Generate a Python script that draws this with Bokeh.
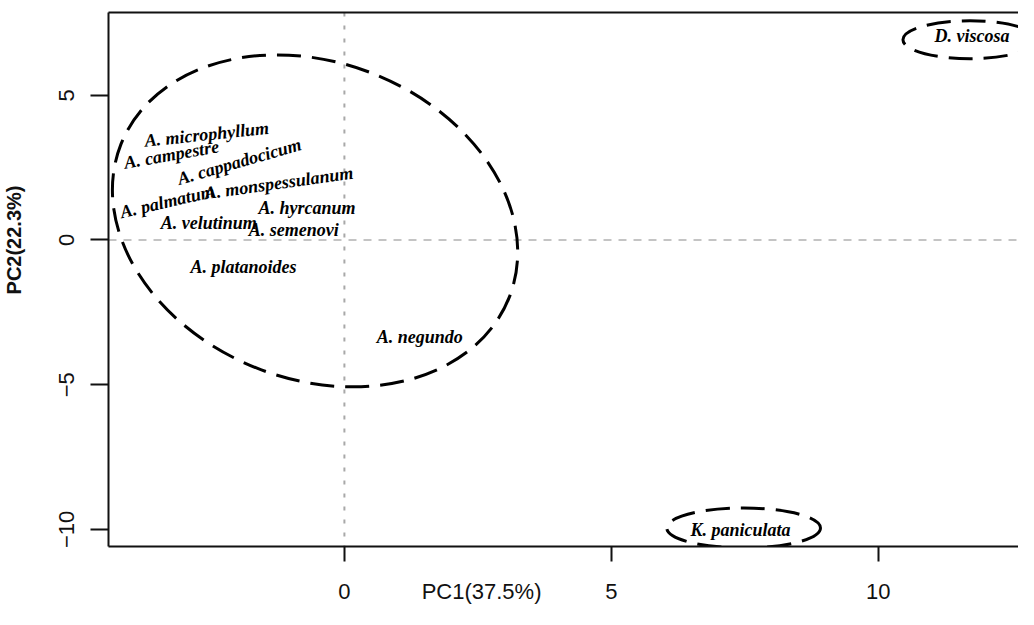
import math
from bokeh.plotting import figure
from bokeh.models import Range1d, FixedTicker, LinearAxis, Span, ColumnDataSource
from bokeh.core.properties import value
from bokeh.embed import file_html
from bokeh.resources import INLINE

# ---- data ----
species = ["A. microphyllum", "A. campestre", "A. cappadocicum", "A. palmatum",
           "A. monspessulanum", "A. hyrcanum", "A. velutinum", "A. semenovi",
           "A. platanoides", "A. negundo", "D. viscosa", "K. paniculata"]
pc1 = [-2.58, -3.24, -1.97, -3.32, -1.23, -0.70, -2.54, -0.95, -1.89, 1.41, 11.76, 7.42]
pc2 = [3.65, 2.95, 2.71, 1.33, 1.97, 1.09, 0.59, 0.35, -0.93, -3.35, 7.05, -10.02]

group_cx = [-0.55, 11.72, 7.48]
group_cy = [0.66, 6.92, -9.95]
group_w = [7.82, 2.51, 2.88]
group_h = [10.94, 1.31, 1.38]

x_ticks = [0, 5, 10]
y_ticks = [-10, -5, 0, 5]
x_title = "PC1(37.5%)"
y_title = "PC2(22.3%)"

# ---- styles / placement ----
label_angles_deg = [6, 10, 16, 13, 8, 0, 0, 0, 0, 0, 0, 0]
group_angle_deg = [-21.5, 0, 0]
X_TITLE_AT = 2.57   # the x title sits on the tick-label line, between 0 and 5
Y_TITLE_AT = 0.0
INK = "#111111"

p = figure(width=1018, height=609, output_backend="svg", toolbar_location=None,
           x_range=Range1d(-4.42, 12.63), y_range=Range1d(-10.59, 7.86),
           min_border_left=108, min_border_right=0, min_border_top=12, min_border_bottom=63)
p.outline_line_color = None
p.grid.visible = False
p.background_fill_color = "white"
p.border_fill_color = "white"

for ax in (p.xaxis[0], p.yaxis[0]):
    ax.axis_line_width = 2
    ax.axis_line_color = INK
    ax.major_label_text_font = "Liberation Sans"
    ax.major_label_text_font_size = "22px"
    ax.major_label_text_color = INK

# bottom: tick marks drawn as (minor) ticks at 0, 5, 10; the title shares the label line
xa = p.xaxis[0]
xa.ticker = FixedTicker(ticks=x_ticks + [X_TITLE_AT], minor_ticks=x_ticks)
xa.major_label_overrides = {X_TITLE_AT: x_title}
xa.major_tick_line_color = None
xa.major_tick_out = 0
xa.major_tick_in = 0
xa.minor_tick_line_color = INK
xa.minor_tick_line_width = 2
xa.minor_tick_out = 15
xa.minor_tick_in = 0
xa.major_label_standoff = 17

ya = p.yaxis[0]
ya.ticker = FixedTicker(ticks=y_ticks)
ya.major_tick_line_width = 2
ya.major_tick_line_color = INK
ya.minor_tick_line_color = None
ya.major_tick_in = 0
ya.major_tick_out = 18
ya.major_label_standoff = 16
ya.major_label_orientation = "vertical"

yl = LinearAxis(ticker=FixedTicker(ticks=[Y_TITLE_AT]),
                major_label_overrides={Y_TITLE_AT: y_title},
                axis_line_color=None, major_tick_line_color=None, minor_tick_line_color=None,
                major_tick_out=0, major_tick_in=0, minor_tick_out=0, minor_tick_in=0,
                major_label_standoff=31, major_label_orientation="vertical",
                major_label_text_font="Liberation Sans", major_label_text_font_style="bold",
                major_label_text_font_size="20px", major_label_text_color=INK)
p.add_layout(yl, "left")

top = LinearAxis(ticker=FixedTicker(ticks=[]), axis_line_width=2, axis_line_color=INK,
                 major_tick_out=0, major_tick_in=0, minor_tick_out=0, minor_tick_in=0,
                 major_label_standoff=0)
p.add_layout(top, "above")

p.add_layout(Span(location=0, dimension="height", line_color="#a8a8a8",
                  line_dash="4 9", line_width=2, level="underlay"))
p.add_layout(Span(location=0, dimension="width", line_color="#c4c4c4",
                  line_dash="8 7", line_width=2, level="underlay"))

gsrc = ColumnDataSource(dict(x=group_cx, y=group_cy, w=group_w, h=group_h,
                             a=[math.radians(d) for d in group_angle_deg]))
p.ellipse(x="x", y="y", width="w", height="h", angle="a", source=gsrc,
          fill_color=None, line_color="black", line_width=3, line_dash="24 11")

tsrc = ColumnDataSource(dict(x=pc1, y=pc2, t=species,
                             a=[math.radians(d) for d in label_angles_deg]))
p.text(x="x", y="y", text="t", angle="a", source=tsrc,
       text_font=value("Liberation Serif"), text_font_style="bold italic",
       text_font_size="18px", text_color="black",
       text_align="center", text_baseline="middle")

open("out.html", "w").write(file_html(p, INLINE))
